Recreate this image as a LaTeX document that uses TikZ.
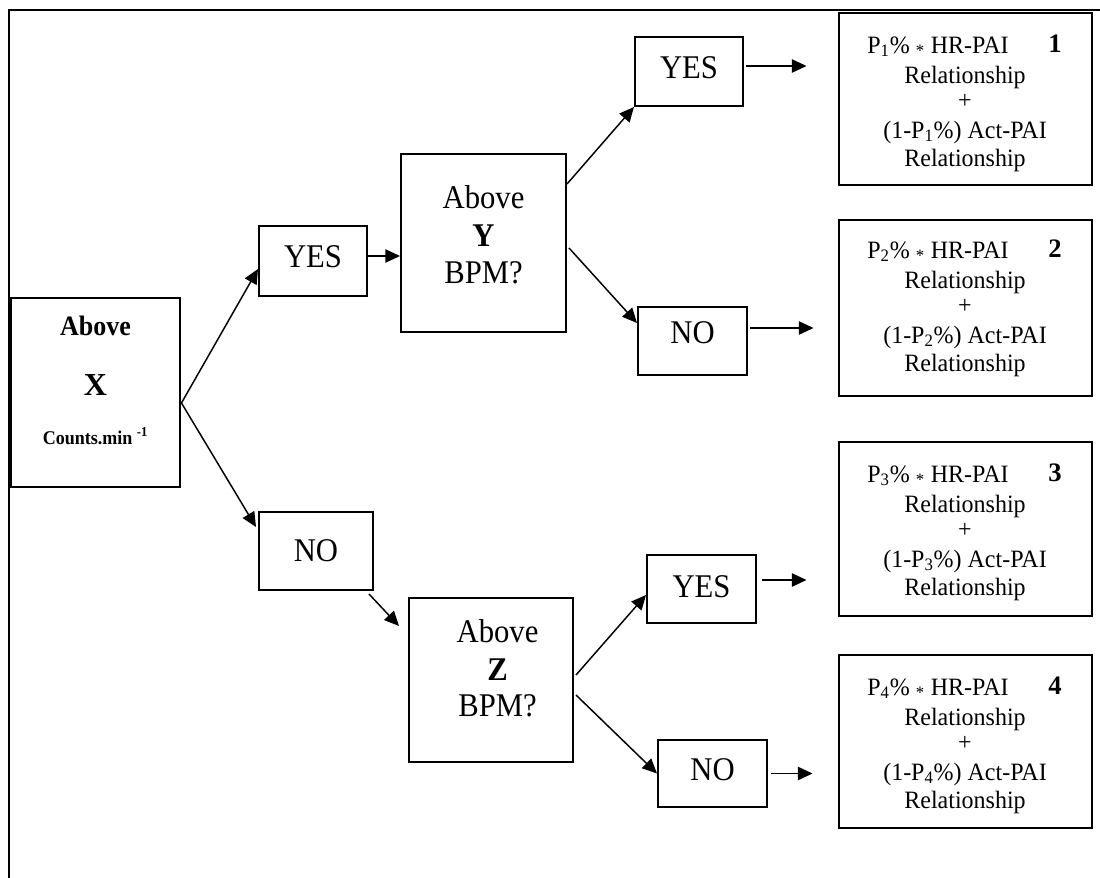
\documentclass[tikz,border=0pt]{standalone}
\usepackage{fontspec}
\setmainfont{Liberation Serif}
\usetikzlibrary{arrows.meta,calc}
\newcommand\talltext[1]{\scalebox{1}[1.08]{#1}}
\newcommand\rtall[1]{\scalebox{1}[1.04]{#1}}
\begin{document}
\begin{tikzpicture}[x=0.75pt,y=-0.75pt,
  frame/.style={line width=1.5pt},
  sbox/.style={draw,line width=1.5pt,inner sep=0pt,font=\fontsize{23}{27}\selectfont,text depth=6pt},
  qbox/.style={draw,line width=1.5pt,inner sep=0pt},
  xboxst/.style={draw,line width=2.2pt,inner sep=0pt},
  rbox/.style={draw,line width=2.2pt,inner sep=0pt,minimum width=189.75pt},
  qtext/.style={font=\fontsize{23}{27}\selectfont,inner sep=0pt,anchor=base},
  rtext/.style={font=\fontsize{18}{20}\selectfont,inner sep=0pt,anchor=base},
  numtext/.style={font=\bfseries\fontsize{20}{24}\selectfont,inner sep=0pt,anchor=base},
  arr/.style={line width=1.1pt,-{Triangle[length=11pt,width=10pt]}}
]
\useasboundingbox (0,0) rectangle (1100,878);
% outer frame (top and left only)
\draw[frame] (8,10) -- (1100,10);
\draw[frame] (9,10) -- (9,878);

% decision boxes
\node[xboxst,minimum width=126.75pt,minimum height=141.75pt] (xbox) at (95.5,392.5) {};
\node[font=\bfseries\fontsize{19.5}{22}\selectfont,inner sep=0pt,anchor=base] (xt1) at (95.5,335) {\talltext{Above}};
\node[font=\bfseries\fontsize{24}{28}\selectfont,inner sep=0pt,anchor=base] (xt2) at (95.5,395) {X};
\node[font=\bfseries\fontsize{13.5}{16}\selectfont,inner sep=0pt,anchor=base] (xt3) at (95.5,444) {\talltext{Counts.min \textsuperscript{-1}}};

\node[sbox,minimum width=81pt,minimum height=52.5pt] (yes1) at (313,261) {\talltext{YES}};
\node[sbox,minimum width=85.5pt,minimum height=58.5pt,text depth=0pt] (no1) at (316,551) {\talltext{NO}};

\node[qbox,minimum width=123.75pt,minimum height=133.5pt] (ybox) at (483.5,243) {};
\node[qtext] (yt1) at (483.5,208) {\talltext{Above}};
\node[qtext,font=\bfseries\fontsize{23}{27}\selectfont] (yt2) at (483.5,246) {\talltext{Y}};
\node[qtext] (yt3) at (483.5,283) {\talltext{BPM?}};

\node[qbox,minimum width=123pt,minimum height=123pt] (zbox) at (491,680) {};
\node[qtext] (zt1) at (497.5,642) {\talltext{Above}};
\node[qtext,font=\bfseries\fontsize{23}{27}\selectfont] (zt2) at (497.5,680) {\talltext{Z}};
\node[qtext] (zt3) at (497.5,716) {\talltext{BPM?}};

\node[sbox,minimum width=81pt,minimum height=51.75pt] (yesY) at (689,71.5) {\talltext{YES}};
\node[sbox,minimum width=81.75pt,minimum height=51pt,text depth=12pt] (noY) at (692.5,341) {\talltext{NO}};
\node[sbox,minimum width=81.75pt,minimum height=51pt,text depth=4pt] (yesZ) at (701.5,589) {\talltext{YES}};
\node[sbox,minimum width=81.75pt,minimum height=50.25pt,text depth=6pt] (noZ) at (712.5,773.5) {\talltext{NO}};

% result boxes
\node[rbox,minimum height=129pt] (r1) at (965.5,99) {};
\node[rbox,minimum height=132pt] (r2) at (965.5,308) {};
\node[rbox,minimum height=130.5pt] (r3) at (965.5,529) {};
\node[rbox,minimum height=129.75pt] (r4) at (965.5,741.5) {};

\foreach \i/\T in {1/13,2/218,3/442,4/655}{
  \node[rtext] (p\i) at (938,\T+40) {\rtall{P\textsubscript{\i}\% \textsubscript{*} HR-PAI}};
  \node[numtext] (n\i) at (1055,\T+39) {\i};
  \node[rtext] (ra\i) at (965,\T+70) {\rtall{Relationship}};
  \node[rtext] (pl\i) at (965,\T+95) {\rtall{+}};
  \node[rtext] (q\i) at (965,\T+125) {\rtall{(1-P\textsubscript{\i}\%) Act-PAI}};
  \node[rtext] (rb\i) at (965,\T+153) {\rtall{Relationship}};
}

% connector points
\coordinate (xs) at ($(xbox.east)+(0,10.5)$);
\coordinate (yes1in) at ($(yes1.west)+(0,8)$);
\coordinate (no1in) at ($(no1.north west)+(-2,16)$);
\coordinate (yes1out) at ($(yes1.east)+(-1,-5)$);
\coordinate (yso) at ($(ybox.north east)+(0,31)$);
\coordinate (yno) at ($(ybox.east)+(2,5)$);
\coordinate (noYin) at ($(noY.west)+(0,-18)$);
\coordinate (no1out) at ($(no1.south east)+(-5,3)$);
\coordinate (zin) at ($(zbox.north west)+(-9,29)$);
\coordinate (zso) at ($(zbox.east)+(2,-5)$);
\coordinate (zno) at ($(zbox.east)+(2,15)$);
\coordinate (yesZin) at ($(yesZ.west)+(0,6)$);
\coordinate (yesYout) at ($(yesY.east)+(2,-5.5)$);
\coordinate (noYout) at ($(noY.east)+(2,-13)$);
\coordinate (yesZout) at ($(yesZ.east)+(5,-9)$);
\coordinate (noZout) at ($(noZ.east)+(3,0)$);

% connectors
\draw[arr] (xs) -- (yes1in);
\draw[arr] (xs) -- (no1in);
\draw[arr] (yes1out) -- (yes1out -| ybox.west);
\draw[arr] (yso) -- (yesY.south west);
\draw[arr] (yno) -- (noYin);
\draw[arr] (no1out) -- (zin);
\draw[arr] (zso) -- (yesZin);
\draw[arr] (zno) -- (noZ.west);
\draw[arr,shorten >=31pt*0.75] (yesYout) -- (yesYout -| r1.west);
\draw[arr,shorten >=24pt*0.75] (noYout) -- (noYout -| r2.west);
\draw[arr,shorten >=31pt*0.75] (yesZout) -- (yesZout -| r3.west);
\draw[arr,shorten >=25pt*0.75] (noZout) -- (noZout -| r4.west);
\end{tikzpicture}
\end{document}
